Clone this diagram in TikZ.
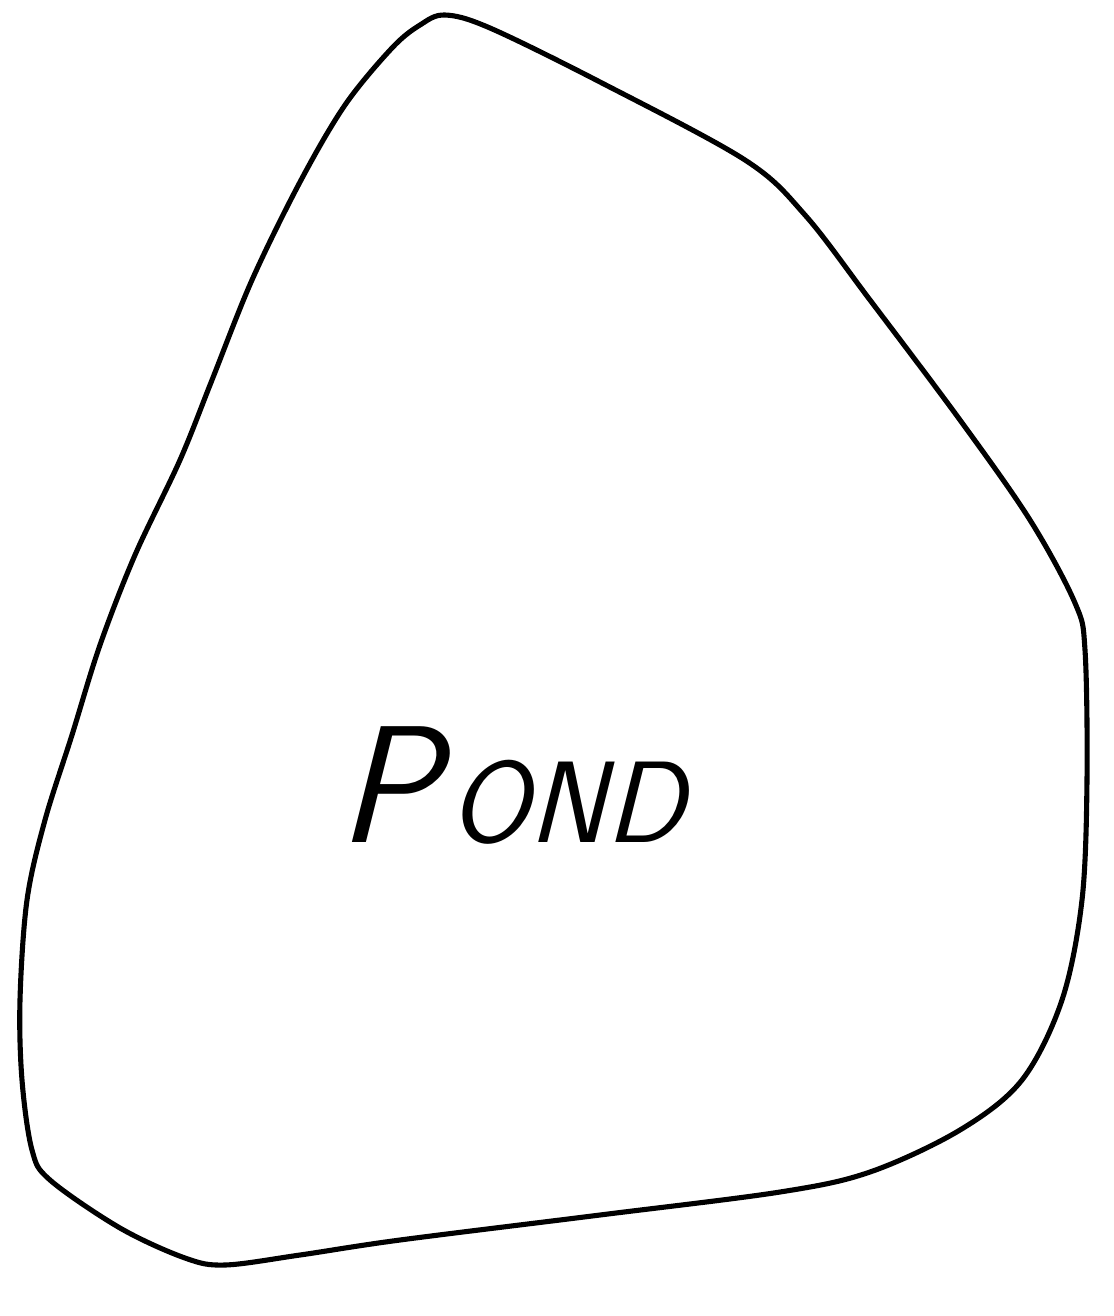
\documentclass[tikz,border=0pt]{standalone}
\begin{document}
\begin{tikzpicture}[x=0.02cm,y=-0.02cm,
  pondline/.style={line width=2.9pt,line join=round},
  label/.style={font=\sffamily\fontsize{60}{60}\selectfont\mdseries, inner sep=0pt, xslant=0.25}]
\useasboundingbox (0,0) rectangle (1114,1316);
\draw[pondline] plot[smooth cycle, tension=0.55] coordinates {
 (445,15) (490,28) (600,82) (745,160) (805,215) (870,300) (960,420) (1030,520)
 (1075,603) (1085,650) (1087,780) (1082,900) (1062,1000) (1022,1080) (960,1130)
 (870,1172) (780,1192) (600,1215) (400,1240) (300,1255) (225,1265) (185,1258)
 (120,1228) (50,1180) (32,1150) (22,1080) (20,1000) (27,900) (45,820) (72,735)
 (100,645) (135,555) (180,460) (212,380) (252,280) (300,182) (345,105) (392,48) (420,25)};
\node[label] (pond) at (525,785) {\fontsize{95}{95}\selectfont P\kern6pt\fontsize{66}{66}\selectfont OND};
\end{tikzpicture}
\end{document}
